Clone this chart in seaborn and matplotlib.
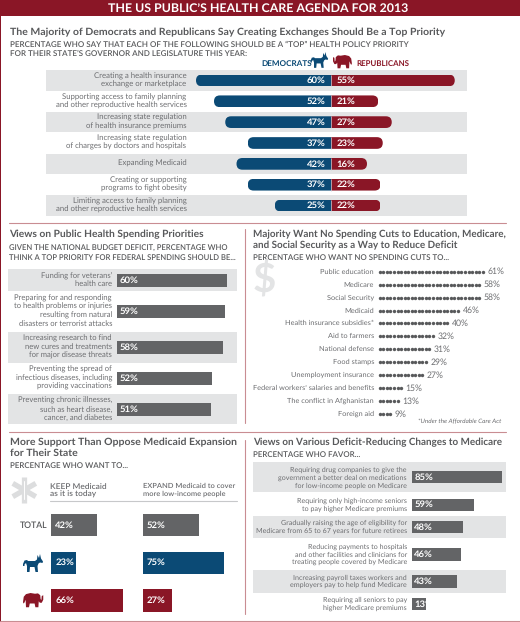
import numpy as np
import pandas as pd
import matplotlib
matplotlib.use("Agg")
import matplotlib.pyplot as plt
from matplotlib.patches import FancyBboxPatch, Polygon, Rectangle
from matplotlib.transforms import IdentityTransform
import seaborn as sns

# Data
priority_labels = ["Creating a health insurance\nexchange or marketplace",
                   "Supporting access to family planning\nand other reproductive health services",
                   "Increasing state regulation\nof health insurance premiums",
                   "Increasing state regulation\nof charges by doctors and hospitals",
                   "Expanding Medicaid",
                   "Creating or supporting\nprograms to fight obesity",
                   "Limiting access to family planning\nand other reproductive health services"]
priority_dem = [60, 52, 47, 37, 42, 37, 25]
priority_rep = [55, 21, 27, 23, 16, 22, 22]

spending_labels = ["Funding for veterans\u2019\nhealth care",
                   "Preparing for and responding\nto health problems or injuries\nresulting from natural\ndisasters or terrorist attacks",
                   "Increasing research to find\nnew cures and treatments\nfor major disease threats",
                   "Preventing the spread of\ninfectious diseases, including\nproviding vaccinations",
                   "Preventing chronic illnesses,\nsuch as heart disease,\ncancer, and diabetes"]
spending_values = [60, 59, 58, 52, 51]

cuts_labels = ["Public education", "Medicare", "Social Security", "Medicaid",
               "Health insurance subsidies*", "Aid to farmers", "National defense",
               "Food stamps", "Unemployment insurance",
               "Federal workers\u2019 salaries and benefits",
               "The conflict in Afghanistan", "Foreign aid"]
cuts_values = [61, 58, 58, 46, 40, 32, 31, 29, 27, 15, 13, 9]

expansion_groups = ["Total", "Democrats", "Republicans"]
keep_values = [42, 23, 66]
expand_values = [52, 75, 27]

medicare_labels = ["Requiring drug companies to give the\ngovernment a better deal on medications\nfor low-income people on Medicare",
                   "Requiring only high-income seniors\nto pay higher Medicare premiums",
                   "Gradually raising the age of eligibility for\nMedicare from 65 to 67 years for future retirees",
                   "Reducing payments to hospitals\nand other facilities and clinicians for\ntreating people covered by Medicare",
                   "Increasing payroll taxes workers and\nemployers pay to help fund Medicare",
                   "Requiring all seniors to pay\nhigher Medicare premiums"]
medicare_values = [85, 59, 48, 46, 43, 13]

# Colours
RED = "#8a1626"
BLUE = "#0b4a75"
BAR_GRAY = "#636466"
BAND = "#e3e4e5"
HEAD = "#58595b"
TEXT = "#6d6e71"
PINK = "#c98d92"

W, H = 520, 622
sns.set_theme(style="white")
plt.rcParams["font.family"] = ["Lato", "DejaVu Sans"]
plt.rcParams["text.hinting"] = "no_hinting"

fig = plt.figure(figsize=(W / 100, H / 100), dpi=100, facecolor="white")


def panel(x0, x1, y_top, y_bottom, zero_x, px_per_pct):
    # axes placed in pixels; y axis counts figure pixels, x axis counts percent
    ax = fig.add_axes([x0 / W, 1 - y_bottom / H, (x1 - x0) / W, (y_bottom - y_top) / H])
    ax.patch.set_alpha(0)
    ax.limits = ((x0 - zero_x) / px_per_pct, (x1 - zero_x) / px_per_pct, y_bottom, y_top)
    return ax


def finish(ax):
    xa, xb, yb, yt = ax.limits
    ax.set_xlim(xa, xb)
    ax.set_ylim(yb, yt)
    ax.set_xlabel("")
    ax.set_ylabel("")
    ax.axis("off")


def row_bars(ax, values, centers, bar_h, zero_pad):
    gap = np.min(np.diff(centers))
    sns.barplot(x=values, y=centers, orient="h", native_scale=True, color=BAR_GRAY,
                saturation=1, width=bar_h / gap, ax=ax, linewidth=0)
    for c, v in zip(centers, values):
        ax.text(zero_pad, c, f"{v}%", color="white", fontsize=6.8, fontweight="bold", va="center", ha="left")


# Panel 1: back-to-back bars with rounded outer ends
ax1 = panel(46, 467, 70, 216, 331, 2.25)
row_h = (216 - 70) / 7
row_c = [70 + row_h * (i + 0.5) for i in range(7)]
for i in (0, 2, 4, 6):
    ax1.axhspan(row_c[i] - row_h * 0.49, row_c[i] + row_h * 0.49, color=BAND, lw=0, zorder=0)
priority_df = pd.DataFrame({"row": row_c * 2,
                            "value": [-v for v in priority_dem] + priority_rep,
                            "party": ["D"] * 7 + ["R"] * 7})
sns.barplot(data=priority_df, x="value", y="row", hue="party", orient="h", native_scale=True,
            dodge=False, palette={"D": BLUE, "R": RED}, saturation=1, width=11.7 / row_h,
            legend=False, ax=ax1, linewidth=0, zorder=2)
finish(ax1)
fig.canvas.draw()
for cont in ax1.containers:
    for b in cont:
        e = b.get_window_extent()
        r = e.height / 2
        # extra length on the inner side keeps the centre end square
        is_left = min(b.get_x(), b.get_x() + b.get_width()) < 0
        left = e.x0 + r if is_left else e.x0 - 2 * r
        b.set_clip_path(FancyBboxPatch((left, e.y0 + r), e.width + r, 0.01,
                                       boxstyle=f"round,pad={r},rounding_size={r}",
                                       transform=IdentityTransform()))
ax1.vlines([0] * 7, [c - 5.85 for c in row_c], [c + 5.85 for c in row_c], color="#c9d3dc", lw=0.5, zorder=3)
for c, d, rp in zip(row_c, priority_dem, priority_rep):
    ax1.text(-2.3, c, f"{d}%", color="white", fontsize=6.8, fontweight="bold", ha="right", va="center", zorder=4)
    ax1.text(2.3, c, f"{rp}%", color="white", fontsize=6.8, fontweight="bold", ha="left", va="center", zorder=4)

# Panel 2: public health spending
ax2 = panel(8, 237, 269, 424, 117.3, 1.83)
spending_c = [280.3, 311.5, 347.3, 378.7, 409.7]
ax2.axhspan(269, 291.3, color=BAND, lw=0, zorder=0)
ax2.axhspan(331.7, 362.7, color=BAND, lw=0, zorder=0)
ax2.axhspan(394, 424, color=BAND, lw=0, zorder=0)
row_bars(ax2, spending_values, spending_c, 13.3, 1.2)
finish(ax2)

# Panel 3: one dot for every two percent
ax3 = panel(378, 506, 265, 420, 378, 1.775)
cuts_c = [271.7 + 12.94 * i for i in range(len(cuts_values))]
dot_rows = []
for c, v in zip(cuts_c, cuts_values):
    for k in range(v // 2):
        dot_rows.append({"pct": 2 * k + 1, "row": c})
sns.scatterplot(data=pd.DataFrame(dot_rows), x="pct", y="row", color=HEAD, s=6, linewidth=0, ax=ax3)
finish(ax3)
for c, v in zip(cuts_c, cuts_values):
    ax3.text((v // 2) * 2 + 1.6, c, f"{v}%", color=TEXT, fontsize=6.2, va="center", ha="left")

# Panel 4: keep or expand Medicaid
expansion_c = [525.2, 562.8, 600.5]
palette4 = dict(zip(expansion_groups, [BAR_GRAY, BLUE, RED]))
for x0, vals in ((51, keep_values), (142.7, expand_values)):
    ax4 = panel(x0, x0 + 95, 505, 618, x0, 1.09)
    sns.barplot(x=vals, y=expansion_c, hue=expansion_groups, orient="h", native_scale=True, dodge=False,
                palette=palette4, saturation=1, width=22.3 / 37.65, legend=False, ax=ax4, linewidth=0)
    finish(ax4)
    for c, v in zip(expansion_c, vals):
        ax4.text(4.0, c, f"{v}%", color="white", fontsize=6.8, fontweight="bold", va="center")

# Panel 5: Medicare changes
ax5 = panel(253.3, 506, 462.3, 612, 412, 1.056)
medicare_c = [477.2, 504.7, 527, 554.5, 581.5, 604]
ax5.axhspan(462.3, 492, color=BAND, lw=0, zorder=0)
ax5.axhspan(516, 538, color=BAND, lw=0, zorder=0)
ax5.axhspan(570, 593.3, color=BAND, lw=0, zorder=0)
row_bars(ax5, medicare_values, medicare_c, 12.4, 2.2)
finish(ax5)

# Overlay in figure pixels for the banner, headings, rules and icons
top = fig.add_axes([0, 0, 1, 1], zorder=10)
top.set_xlim(0, W)
top.set_ylim(H, 0)
top.axis("off")
top.patch.set_alpha(0)


def txt(x, y, s, size=7, color=TEXT, weight="normal", ha="left", va="center", ls=1.0, **kw):
    return top.text(x, y, s, fontsize=size, color=color, fontweight=weight, ha=ha, va=va, linespacing=ls, **kw)


SUB = 5.7
top.add_patch(Rectangle((0, 0), W, 15.5, color=RED, lw=0))
top.add_patch(Rectangle((0, 0), 1.2, H, color=RED, lw=0))
txt(258, 8.5, "THE US PUBLIC\u2019S HEALTH CARE AGENDA FOR 2013", size=8.9, color="white", weight="bold", ha="center")
txt(10, 32, "The Majority of Democrats and Republicans Say Creating Exchanges Should Be a Top Priority",
    size=7.56, color=HEAD, weight="bold")
txt(10, 45, "PERCENTAGE WHO SAY THAT EACH OF THE FOLLOWING SHOULD BE A \u201cTOP\u201d HEALTH POLICY PRIORITY",
    size=5.75, color=HEAD, weight="semibold")
txt(10, 54, "FOR THEIR STATE\u2019S GOVERNOR AND LEGISLATURE THIS YEAR:", size=5.75, color=HEAD, weight="semibold")
txt(261, 63.3, "DEMOCRATS", size=5.9, color=BLUE, weight="bold")
txt(356.5, 63.3, "REPUBLICANS", size=5.7, color=RED, weight="bold")

for c, s in zip(row_c, priority_labels):
    txt(186.5, c - 0.3, s, size=5.55, ha="right", ls=1.15)
for c, s in zip(spending_c, spending_labels):
    txt(112, c - 0.5, s, size=5.5, ha="right", ls=1.19)
for c, s in zip(cuts_c, cuts_labels):
    txt(374, c, s, size=5.3, ha="right")
for c, s in zip([477.8, 504.5, 527, 554.5, 581.5, 604], medicare_labels):
    txt(407, c, s, size=5.1, ha="right", ls=1.23)

txt(9, 234, "Views on Public Health Spending Priorities", size=7.4, color=HEAD, weight="bold")
txt(9, 248, "GIVEN THE NATIONAL BUDGET DEFICIT, PERCENTAGE WHO", size=5.5, color=HEAD, weight="semibold")
txt(9, 257.5, "THINK A TOP PRIORITY FOR FEDERAL SPENDING SHOULD BE...", size=5.5, color=HEAD, weight="semibold")
txt(253, 234, "Majority Want No Spending Cuts to Education, Medicare,", size=7.1, color=HEAD, weight="bold")
txt(253, 245, "and Social Security as a Way to Reduce Deficit", size=7.1, color=HEAD, weight="bold")
txt(253, 257.5, "PERCENTAGE WHO WANT NO SPENDING CUTS TO...", size=SUB, color=HEAD, weight="semibold")
txt(501, 422, "*Under the Affordable Care Act", size=4.6, style="italic", ha="right")
txt(10, 442, "More Support Than Oppose Medicaid Expansion", size=7.55, color=HEAD, weight="bold")
txt(10, 453, "for Their State", size=7.55, color=HEAD, weight="bold")
txt(10, 465.5, "PERCENTAGE WHO WANT TO...", size=SUB, color=HEAD, weight="semibold")
txt(49.7, 490.3, "KEEP Medicaid\nas it is today", size=6.0, weight="semibold", ls=1.15)
txt(143, 490.3, "EXPAND Medicaid to cover\nmore low-income people", size=5.4, weight="semibold", ls=1.28)
txt(20, 525, "TOTAL", size=6.2, color=HEAD, weight="semibold")
txt(253, 442, "Views on Various Deficit-Reducing Changes to Medicare", size=7.15, color=HEAD, weight="bold")
txt(253, 454.5, "PERCENTAGE WHO FAVOR...", size=SUB, color=HEAD, weight="semibold")

# rules
top.plot([9, 506], [223.4, 223.4], color=PINK, lw=0.8)
top.plot([9, 506], [431.6, 431.6], color=PINK, lw=0.8)
top.plot([0, 520], [620.8, 620.8], color=PINK, lw=0.8)
top.plot([245, 245], [229, 423], color=PINK, lw=0.8)
top.plot([245, 245], [440, 614], color=PINK, lw=0.8)
top.plot([50, 237], [501.3, 501.3], color="#c7c8ca", lw=0.8)

# decorative glyphs
txt(264, 281, "$", size=29, color="#e3e4e5", weight="bold", ha="center")
for ang in (90, 30, 150):
    dx, dy = 13.3 * np.cos(np.radians(ang)), 13.3 * np.sin(np.radians(ang))
    top.plot([24.3 - dx, 24.3 + dx], [490 - dy, 490 + dy], color="#dcddde", lw=3.8, solid_capstyle="butt")
top.plot([24.3, 24.3], [481, 499], color="white", lw=0.7)

donkey = np.array([[0, 10], [1.5, 6.5], [4, 6], [5, 7], [12, 7], [14, 5.5], [14.5, 1], [16, 4], [17, 0], [18, 4.5],
                   [20, 7.5], [19.5, 9], [17, 8.5], [15.5, 9.5], [14.5, 12], [15, 18], [12.5, 18], [11.5, 13],
                   [7, 13], [6.5, 18], [4, 18], [4, 12], [3, 9], [1.5, 10.5], [1.5, 12], [0, 12]])
elephant = np.array([[0, 12], [1, 5], [4, 1.5], [10, 0], [16, 1], [20, 0.5], [23, 3], [23.5, 8], [24.5, 9.5],
                     [25, 4], [27, 3], [27, 9], [25, 13], [22.5, 13], [21, 11], [20.5, 19], [16.5, 19],
                     [15.5, 14], [9, 14], [8, 19], [4, 19], [3.5, 9], [1.8, 13], [0.5, 14]])


def icon(shape, x, y, scale, color, flip=False):
    pts = shape * scale
    if flip:
        pts = pts * [-1, 1] + [pts[:, 0].max(), 0]
    top.add_patch(Polygon(pts + [x, y], closed=True, color=color, lw=0))


icon(donkey, 310.5, 52, 0.88, BLUE)
icon(elephant, 333, 55, 0.7, RED, flip=True)
icon(donkey, 23, 554, 1.0, BLUE)
icon(elephant, 23, 593, 0.75, RED)

fig.savefig("out.png", dpi=100)
